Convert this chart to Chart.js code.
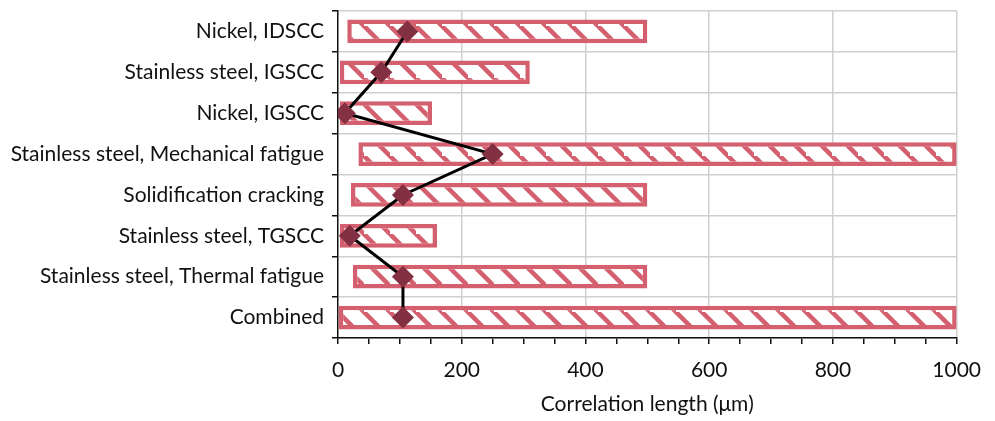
<!DOCTYPE html>
<html>
<head>
<meta charset="utf-8">
<script src="https://cdn.jsdelivr.net/npm/chart.js@4.4.1/dist/chart.umd.min.js"></script>
<style>
  html, body { margin:0; padding:0; background:#fff; }
  #wrap { width:995px; height:421px; }
</style>
</head>
<body>
<div id="wrap"><canvas id="myChart" width="995" height="421"></canvas></div>
<script>
// categories top -> bottom
var categories = ["Nickel, IDSCC", "Stainless steel, IGSCC", "Nickel, IGSCC",
  "Stainless steel, Mechanical fatigue", "Solidification cracking",
  "Stainless steel, TGSCC", "Stainless steel, Thermal fatigue", "Combined"];
// range of correlation length (um)
var rangeMin = [15, 3, 3, 33, 21, 3, 24, 0];
var rangeMax = [500, 310, 152, 1000, 500, 160, 500, 1000];
// typical value (diamonds)
var typical = [112, 70, 11, 250, 105, 19, 105, 105];
var xTicks = [0, 200, 400, 600, 800, 1000];

var RED = '#d4606f', MAROON = '#833043';

function hatch() {
  var s = 26;
  var c = document.createElement('canvas');
  c.width = s; c.height = s;
  var h = c.getContext('2d');
  h.fillStyle = '#fff'; h.fillRect(0, 0, s, s);
  h.strokeStyle = RED; h.lineWidth = 4.5;
  h.beginPath();
  h.moveTo(-4, -4); h.lineTo(s+4, s+4);
  h.moveTo(s-6, -6); h.lineTo(2*s, s);
  h.moveTo(-s, -s); h.lineTo(6, 6);
  h.stroke();
  return h.createPattern(c, 'repeat');
}

function setup() {
  var ranges = [];
  for (var i = 0; i < categories.length; i++) ranges.push([rangeMin[i], rangeMax[i]]);

  var ctx = document.getElementById('myChart').getContext('2d');
  var chart = new Chart(ctx, {
    data: {
      labels: categories,
      datasets: [{
        type: 'line',
        indexAxis: 'y',
        data: typical,
        borderColor: '#000',
        borderWidth: 3,
        pointStyle: 'rectRot',
        pointRadius: 11,
        pointBackgroundColor: MAROON,
        pointBorderColor: MAROON,
        pointBorderWidth: 0,
        tension: 0,
        order: 0
      }, {
        type: 'bar',
        indexAxis: 'y',
        data: ranges,
        backgroundColor: hatch(),
        borderColor: RED,
        borderWidth: 4.5,
        borderSkipped: false,
        barPercentage: 0.58,
        categoryPercentage: 1,
        order: 1
      }]
    },
    options: {
      indexAxis: 'y',
      responsive: false,
      animation: false,
      layout: { padding: { left: 0, right: 38, top: 10, bottom: 0 } },
      plugins: { legend: { display: false }, tooltip: { enabled: false } },
      scales: {
        x: {
          type: 'linear',
          min: 0, max: 1000,
          afterBuildTicks: function(axis) {
            var t = [];
            for (var v = 0; v <= 1000; v += 50) t.push({ value: v });
            axis.ticks = t;
          },
          ticks: {
            autoSkip: false,
            maxRotation: 0,
            padding: 14,
            color: '#111',
            font: { family: 'Lato', size: 21 },
            callback: function(v) { return xTicks.indexOf(v) >= 0 ? String(v) : ''; }
          },
          grid: {
            color: function(c) { return (c.tick && c.tick.value % 200 === 0 && c.tick.value > 0) ? '#cfcfcf' : 'rgba(0,0,0,0)'; },
            tickColor: '#111',
            tickLength: 6,
            lineWidth: 1.5
          },
          border: { color: '#111', width: 1.5 },
          title: { display: true, text: 'Correlation length (\u03bcm)', color: '#111',
                   font: { family: 'Lato', size: 21 }, padding: { top: 1 } },
          afterFit: function(s) { s.height = 83; }
        },
        y: {
          type: 'category',
          offset: true,
          afterFit: function(s) { s.width = 338; s.paddingTop = 0; s.paddingBottom = 0; },
          ticks: { color: '#111', padding: 8, font: { family: 'Lato', size: 21 } },
          grid: { offset: true, color: '#cfcfcf', tickColor: '#111', tickLength: 6, lineWidth: 1.5 },
          border: { color: '#111', width: 1.5 }
        }
      }
    }
  });
}
window.onload = setup;
</script>
</body>
</html>
